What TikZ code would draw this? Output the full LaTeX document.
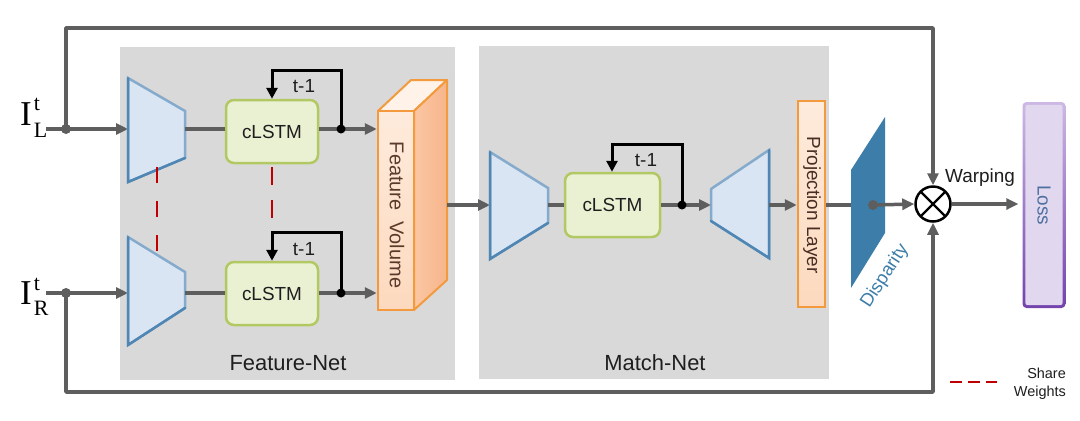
\documentclass[tikz,border=0pt]{standalone}
\usepackage{fontspec}
\setmainfont{Liberation Sans}
\newfontfamily\timesf{Liberation Serif}
\usetikzlibrary{arrows.meta,calc,shadings}
\definecolor{lineg}{HTML}{5E5E5E}
\definecolor{boxg}{HTML}{D9D9D9}
\definecolor{trapf}{HTML}{D9E5F2}
\definecolor{trapm}{HTML}{86AACB}
\definecolor{trapd}{HTML}{4F86B3}
\definecolor{lstmf}{HTML}{EAF1D3}
\definecolor{lstmd}{HTML}{B2C862}
\definecolor{fvfront1}{HTML}{FEEBDC}
\definecolor{fvfront2}{HTML}{FCD9BE}
\definecolor{fvside1}{HTML}{FAC7A3}
\definecolor{fvside2}{HTML}{F7B58B}
\definecolor{fvtop}{HTML}{FFF3E9}
\definecolor{fvedge}{HTML}{F39A3E}
\definecolor{fvtext}{HTML}{5A3A2A}
\definecolor{disp}{HTML}{3C7EA9}
\definecolor{lossf}{HTML}{E1D7EF}
\definecolor{lossb1}{HTML}{CDB8E4}
\definecolor{lossb2}{HTML}{7442AC}
\definecolor{losst}{HTML}{4F6F9F}
\definecolor{dred}{HTML}{C00000}
\definecolor{txt}{HTML}{1E1E1E}
\begin{document}
\begin{tikzpicture}[x=1bp,y=-1bp,
  flow/.style={draw=lineg,line width=3.5bp,-{Triangle[length=12bp,width=11bp]}},
  plain/.style={draw=lineg,line width=3.5bp},
  loopline/.style={draw=black,line width=3bp,line join=miter,-{Triangle[length=11bp,width=11bp]}},
  junc/.style={circle,fill=lineg,inner sep=0pt,minimum size=10bp},
  bjunc/.style={circle,fill=black,inner sep=0pt,minimum size=9bp},
  lstm/.style={draw=lstmd,fill=lstmf,line width=2.5bp,rounded corners=8bp,inner sep=0pt,text=txt,font=\fontsize{19}{22}\selectfont},
  trap/.style={draw=trapm,fill=trapf,line width=2.5bp,line join=miter},
  trapedge/.style={draw=trapd,line width=2.5bp,line cap=round},
  sharew/.style={draw=dred,line width=2.8bp},
  lbl/.style={font=\fontsize{19}{22}\selectfont,inner sep=0pt,text=txt},
  big/.style={font=\fontsize{22}{24}\selectfont,inner sep=0pt,text=txt},
]
\useasboundingbox (0,0) rectangle (1080,420);
\fill[white] (0,0) rectangle (1080,420);

% panels
\fill[boxg] (120,47) rectangle (455,380);
\fill[boxg] (479,46) rectangle (829,379);
\node[big,anchor=base] (fnet) at (288,370) {Feature-Net};
\node[big,anchor=base] (mnet) at (655,370) {Match-Net};

% named points
\coordinate (jL) at (66,129);
\coordinate (jR) at (66,293);
\coordinate (topL) at (66,28);
\coordinate (topR) at (933,28);
\coordinate (botL) at (66,392);
\coordinate (botR) at (933,392);
\coordinate (e1in) at (128,129);
\coordinate (e1out) at (185,129);
\coordinate (e2in) at (128,293);
\coordinate (e2out) at (185,293);
\coordinate (m1in) at (490,205);
\coordinate (m1out) at (548,205);
\coordinate (d1in) at (711,205);
\coordinate (d1out) at (769,205);
\coordinate (fvout) at (447,205);

% inputs
\node[anchor=base west,inner sep=0pt] (IL) at (20,125) {\timesf\fontsize{35}{35}\selectfont I\kern2bp\rlap{\raisebox{-12bp}{\fontsize{22}{22}\selectfont L}}\raisebox{15bp}{\fontsize{22}{22}\selectfont t}};
\node[anchor=base west,inner sep=0pt] (IR) at (20,304) {\timesf\fontsize{35}{35}\selectfont I\kern2bp\rlap{\raisebox{-11bp}{\fontsize{22}{22}\selectfont R}}\raisebox{14bp}{\fontsize{22}{22}\selectfont t}};

% big loops to warping
\node[circle,draw=black,line width=2.5bp,minimum size=35bp,inner sep=0pt] (ox) at (933,204) {};
\draw[black,line width=2.3bp] ($(ox.center)+(45:16.5bp)$) -- ($(ox.center)+(225:16.5bp)$);
\draw[black,line width=2.3bp] ($(ox.center)+(135:16.5bp)$) -- ($(ox.center)+(315:16.5bp)$);
\draw[flow,line join=round] (jL) -- (topL) -- (topR) -- (ox.north);
\draw[flow,line join=round] (jR) -- (botL) -- (botR) -- (ox.south);
\draw[plain] ([xshift=6bp]IL.east |- jL) -- (jL);
\draw[plain] ([xshift=6bp]IR.east |- jR) -- (jR);
\draw[flow] (jL) -- (e1in);
\draw[flow] (jR) -- (e2in);
\node[junc] (dL) at (jL) {};
\node[junc] (dR) at (jR) {};

% encoders feature-net
\draw[trap] (128,78) -- (185,111) -- (185,158) -- (128,182) -- cycle;
\draw[trapedge] (128,78) -- (128,182) -- (185,158);
\draw[trap] (128,237) -- (185,272) -- (185,308) -- (128,345) -- cycle;
\draw[trapedge] (128,237) -- (128,345) -- (185,308);

% cLSTMs
\node[lstm,minimum width=92bp,minimum height=63bp] (c1) at (272,131.5) {cLSTM};
\node[lstm,minimum width=92bp,minimum height=63bp] (c2) at (272,293.5) {cLSTM};

% share weights dashes
\coordinate (s1a) at (157,167); \coordinate (s1b) at (157,252);
\coordinate (s2a) at (272,167); \coordinate (s2b) at (272,252);
\draw[sharew,dash pattern=on 16bp off 18bp] (s1a) -- (s1b);
\draw[sharew,dash pattern=on 18bp off 15bp] (s2a) -- (s2b);

% feature volume
\draw[fill=fvtop,draw=fvedge,line width=2bp,line join=round] (378,111) -- (411,80) -- (447,80) -- (414,111) -- cycle;
\path[draw=fvedge,line width=2bp,line join=round,left color=fvside1,right color=fvside2] (414,111) -- (447,80) -- (447,280) -- (414,310) -- cycle;
\node[draw=fvedge,line width=2.5bp,top color=fvfront1,bottom color=fvfront2,minimum width=36bp,minimum height=199bp,inner sep=0pt] (fv) at (396,210.5) {};
\node[rotate=-90,inner sep=0pt,text=fvtext,font=\fontsize{20}{22}\selectfont] (fvt) at (397,215) {Feature\ \ Volume};

\draw[plain] (e1out) -- (c1.west |- e1out);
\draw[plain] (e2out) -- (c2.west |- e2out);
\draw[flow] (c1.east |- e1out) -- (fv.west |- e1out);
\draw[flow] (c2.east |- e2out) -- (fv.west |- e2out);
\node[bjunc] (k1) at (341,129) {};
\node[bjunc] (k2) at (341,293) {};
\coordinate (k1t) at (341,70); \coordinate (c1t) at (272,70);
\coordinate (k2t) at (341,232); \coordinate (c2t) at (272,232);
\draw[loopline] (k1.center) -- (k1t) -- (c1t) -- (c1.north);
\draw[loopline] (k2.center) -- (k2t) -- (c2t) -- (c2.north);
\node[lbl] (t1) at (304,86) {t-1};
\node[lbl] (t2) at (304,249) {t-1};

% match-net
\draw[flow] (fvout) -- (m1in);
\draw[trap] (490,152) -- (548,188) -- (548,223) -- (490,259) -- cycle;
\draw[trapedge] (490,152) -- (490,259) -- (548,223);
\node[lstm,minimum width=95bp,minimum height=64bp] (c3) at (612.5,205) {cLSTM};
\draw[plain] (m1out) -- (c3.west |- m1out);
\draw[trap] (711,189) -- (769,150) -- (769,258) -- (711,221) -- cycle;
\draw[trapedge] (769,150) -- (769,258) -- (711,221);
\draw[flow] (c3.east |- m1out) -- (d1in);
\node[bjunc] (k3) at (682,205) {};
\coordinate (k3t) at (682,144); \coordinate (c3t) at (612,144);
\draw[loopline] (k3.center) -- (k3t) -- (c3t) -- (c3.north -| c3t);
\node[lbl] (t3) at (646,160) {t-1};

% projection layer
\node[draw=fvedge,line width=2.5bp,top color=fvfront1,bottom color=fvfront2,minimum width=27bp,minimum height=206bp,inner sep=0pt] (proj) at (811.5,204) {};
\node[rotate=-90,inner sep=0pt,text=fvtext!80!black,font=\fontsize{19}{22}\selectfont] (projt) at (812,205) {Projection Layer};
\draw[flow] (d1out) -- (proj.west |- d1out);

% disparity
\coordinate (dd) at (873,205);
\draw[plain] (proj.east |- dd) -- (dd);
\fill[disp] (851,170) -- (885,117) -- (885,233) -- (851,288) -- cycle;
\node[junc] (ddn) at (dd) {};
\draw[flow] (ddn.center) -- (ox.west);
\node[rotate=57,inner sep=0pt,text=disp,font=\fontsize{18.5}{22}\selectfont] (dispt) at (885,276) {Disparity};

\node[lbl,anchor=base west] (warp) at (945,182) {Warping};

% loss
\node[rounded corners=4bp,top color=lossb1,bottom color=lossb2,minimum width=43bp,minimum height=206bp,inner sep=0pt] (loss) at (1044,205) {};
\fill[lossf,rounded corners=2.5bp] ([shift={(3bp,3bp)}]loss.south west) rectangle ([shift={(-3bp,-3bp)}]loss.north east);
\node[rotate=-90,inner sep=0pt,text=losst,font=\fontsize{19}{22}\selectfont] (losst) at (1044,205) {Loss};
\draw[flow,shorten >=4bp] (ox.east) -- (loss.west |- ox);

% legend
\coordinate (lg1) at (950,382); \coordinate (lg2) at (997,382);
\draw[sharew,dash pattern=on 12bp off 6bp] (lg1) -- (lg2);
\node[anchor=base east,inner sep=0pt,text=txt,font=\fontsize{14.5}{17}\selectfont] (sh1) at (1066,378) {Share};
\node[anchor=base east,inner sep=0pt,text=txt,font=\fontsize{14.5}{17}\selectfont] (sh2) at (1066,396) {Weights};
\end{tikzpicture}
\end{document}
